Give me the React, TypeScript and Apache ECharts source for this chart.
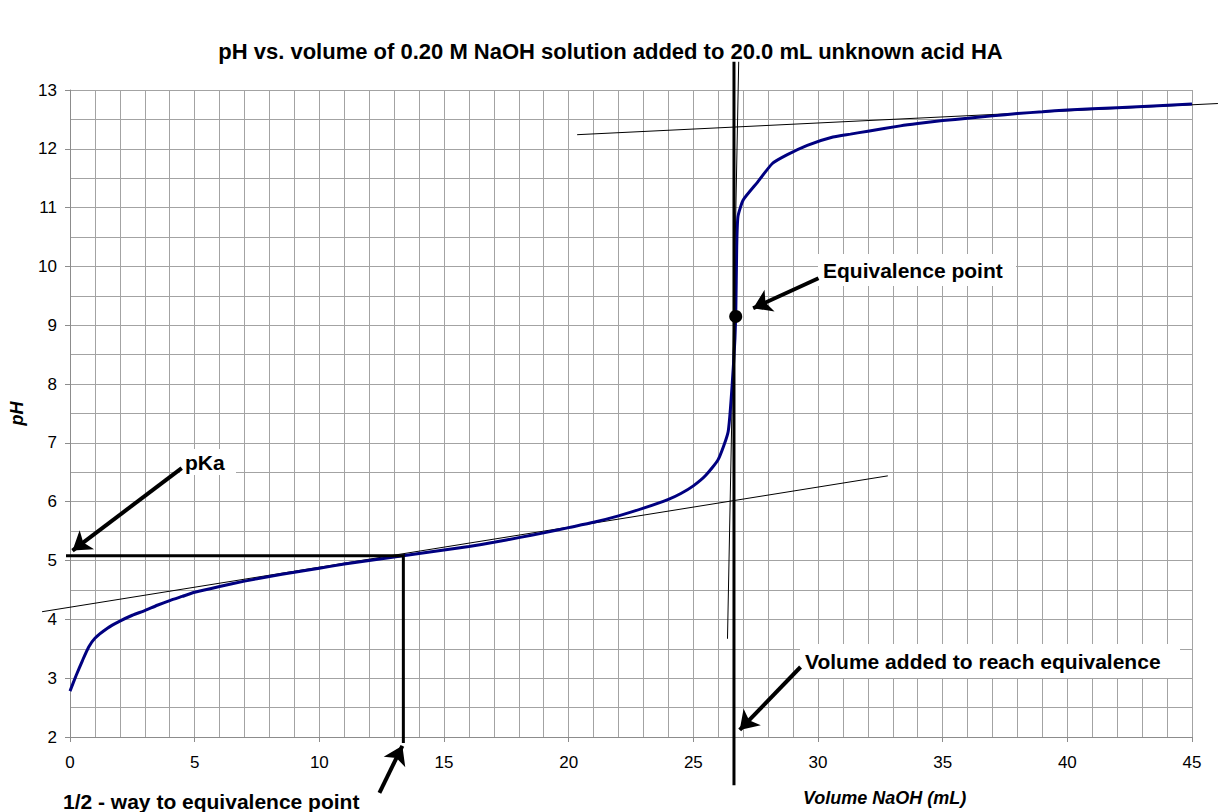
import React, { useEffect, useRef } from "react";
import * as echarts from "echarts";

// Titration curve
const volumes = [0, 0.25, 0.5, 0.75, 1.0, 1.5, 2, 2.5, 3, 3.5, 4, 4.5, 5, 6, 7, 8, 9, 10, 11, 12, 13, 14, 15, 16, 17, 18, 19, 20, 21, 22, 23, 24, 24.5, 25, 25.5, 26.0, 26.4, 26.62, 26.7, 26.74, 26.79, 27.0, 27.57, 28.17, 28.77, 29.57, 30.6, 31.3, 32, 33.3, 34, 35, 36, 37, 38, 39, 40, 42, 45];
const pHValues = [2.78, 3.05, 3.3, 3.53, 3.68, 3.85, 3.97, 4.07, 4.15, 4.24, 4.32, 4.39, 4.46, 4.56, 4.65, 4.73, 4.8, 4.87, 4.94, 5.0, 5.06, 5.12, 5.18, 5.24, 5.31, 5.39, 5.47, 5.56, 5.65, 5.76, 5.89, 6.04, 6.14, 6.27, 6.45, 6.72, 7.2, 8.4, 9.15, 10.34, 10.85, 11.13, 11.43, 11.75, 11.9, 12.06, 12.2, 12.25, 12.3, 12.39, 12.43, 12.48, 12.52, 12.56, 12.6, 12.63, 12.66, 12.7, 12.76];

// Construction lines
const bufferTangent = [[-1.12, 4.13], [32.8, 6.44]];
const baseTangent = [[20.34, 12.24], [46.04, 12.77]];
const steepTangent = [[26.37, 3.67], [26.82, 13.48]];
const equivalenceLine = [[26.63, 1.18], [26.63, 13.48]];
const pKaLine = [[-0.16, 5.08], [13.37, 5.08], [13.37, 1.9]];
const equivalencePoint = [[26.7, 9.15]];

// Arrows: [tail, head]
const arrows = [
  [[4.48, 6.57], [0.1, 5.17]],
  [[12.41, 1.05], [13.33, 1.85]],
  [[30.02, 9.8], [27.4, 9.29]],
  [[29.3, 3.19], [26.86, 2.12]],
];

const xTicks = { min: 0, max: 45, interval: 5 };
const yTicks = { min: 2, max: 13, interval: 1 };

const FONT = "Liberation Sans, Arial, sans-serif";

export default function App() {
  const ref = useRef<HTMLDivElement>(null);
  useEffect(() => {
    if (!ref.current) return;
    const chart = echarts.init(ref.current, undefined, { renderer: "svg" });
    const curve = volumes.map((v, i) => [v, pHValues[i]]);
    const gridColor = "#a3a3a3";
    const segLines = (coords: number[][], width: number, z: number) => ({
      type: "lines", coordinateSystem: "cartesian2d", clip: false, polyline: true, z, silent: true,
      symbol: "none",
      lineStyle: { color: "#000", width, opacity: 1 },
      data: [{ coords }],
    });
    const label = (text: string, x: number, y: number, w: number, h: number) => [
      { type: "rect", z: 50, shape: { x: x - 5, y: y - h / 2, width: w, height: h }, style: { fill: "#fff" } },
      {
        type: "text", z: 51, x, y,
        style: { text, fill: "#000", font: `bold 21px ${FONT}`, textVerticalAlign: "middle", textAlign: "left" },
      },
    ];
    chart.setOption({
      animation: false,
      backgroundColor: "#fff",
      title: {
        text: "pH vs. volume of 0.20 M NaOH solution added to 20.0 mL unknown acid HA",
        left: "center",
        top: 35,
        textStyle: { fontFamily: FONT, fontWeight: "bold", fontSize: 22, color: "#000" },
      },
      grid: { left: 69, right: 29, top: 90, bottom: 75, containLabel: false },
      xAxis: {
        type: "value",
        ...xTicks,
        axisLine: { show: true, lineStyle: { color: "#8c8c8c", width: 1 } },
        axisTick: { show: true, inside: false, length: 5, lineStyle: { color: "#8c8c8c" } },
        axisLabel: { fontFamily: FONT, fontSize: 17, color: "#000", margin: 17 },
        splitLine: { show: true, lineStyle: { color: gridColor, width: 1 } },
        minorTick: { show: false, splitNumber: 5 },
        minorSplitLine: { show: true, lineStyle: { color: gridColor, width: 1 } },
      },
      yAxis: {
        type: "value",
        ...yTicks,
        name: "pH",
        nameLocation: "middle",
        nameRotate: 90,
        nameGap: 44,
        nameTextStyle: { fontFamily: FONT, fontSize: 18, fontWeight: "bold", fontStyle: "italic", color: "#000" },
        axisLine: { show: true, lineStyle: { color: "#8c8c8c", width: 1 } },
        axisTick: { show: true, inside: false, length: 5, lineStyle: { color: "#8c8c8c" } },
        axisLabel: { fontFamily: FONT, fontSize: 17, color: "#000", margin: 13 },
        splitLine: { show: true, lineStyle: { color: gridColor, width: 1 } },
        minorTick: { show: false, splitNumber: 2 },
        minorSplitLine: { show: true, lineStyle: { color: gridColor, width: 1 } },
      },
      series: [
        segLines(bufferTangent, 1, 3),
        segLines(baseTangent, 1, 3),
        segLines(steepTangent, 1, 3),
        {
          type: "line", data: curve, showSymbol: false, smooth: 0.18, clip: false,
          lineStyle: { color: "#000080", width: 3 }, z: 4, silent: true,
        },
        segLines(equivalenceLine, 3, 5),
        segLines(pKaLine, 3, 5),
        {
          type: "scatter", data: equivalencePoint, symbol: "circle", symbolSize: 13, clip: false,
          itemStyle: { color: "#000", opacity: 1 }, z: 6, silent: true,
        },
        {
          type: "lines", coordinateSystem: "cartesian2d", clip: false, z: 60,
          symbol: ["none", "arrow"], symbolSize: 18,
          lineStyle: { color: "#000", width: 4, opacity: 1 },
          data: arrows.map((a) => ({ coords: a })),
          silent: true,
        },
      ],
      graphic: [
        ...label("pKa", 185, 462, 56, 26),
        ...label("Equivalence point", 823, 270, 198, 32),
        ...label("Volume added to reach equivalence", 805, 661, 380, 34),
        ...label("1/2 - way to equivalence point", 63, 801, 312, 26),
        {
          type: "text", z: 51, x: 803, y: 798,
          style: {
            text: "Volume NaOH (mL)", fill: "#000", font: `italic bold 18px ${FONT}`,
            textVerticalAlign: "middle", textAlign: "left",
          },
        },
      ],
    });
    return () => chart.dispose();
  }, []);
  return <div ref={ref} style={{ position: "absolute", left: 0, top: 0, width: 1221, height: 812 }} />;
}
